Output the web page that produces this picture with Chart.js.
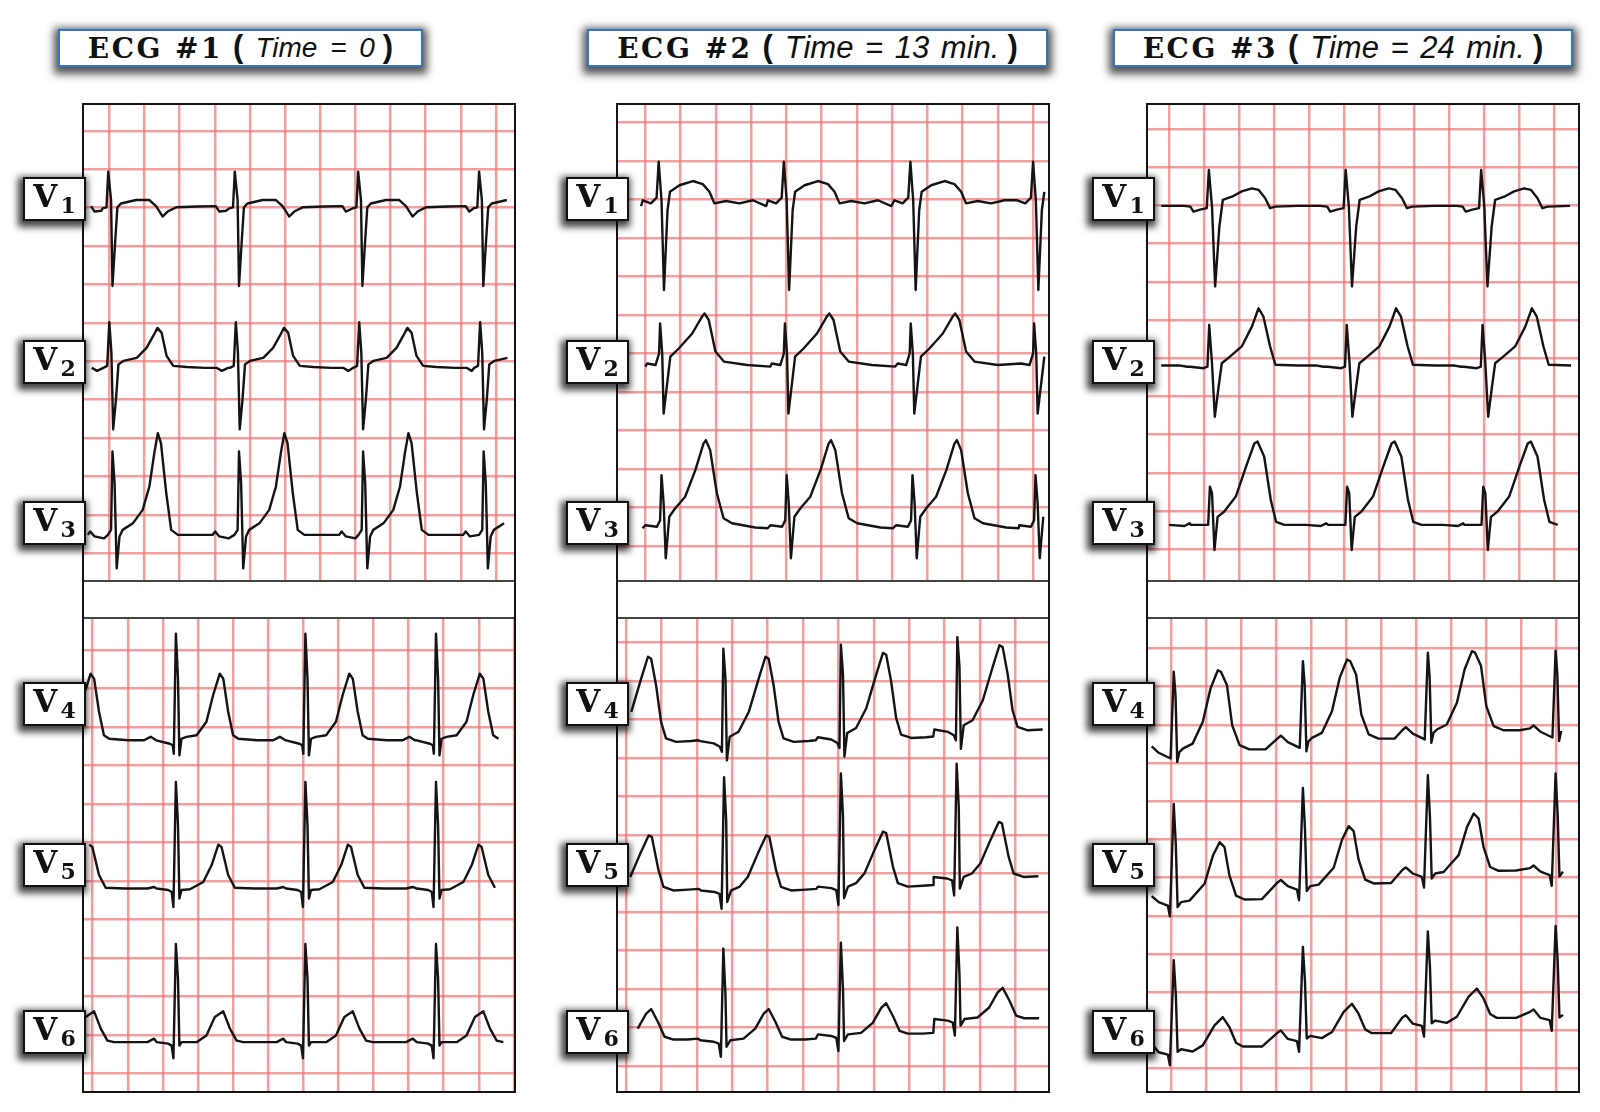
<!DOCTYPE html>
<html>
<head>
<meta charset="utf-8">
<title>ECG V1-V6 serial tracings</title>
<script src="https://cdn.jsdelivr.net/npm/chart.js@4.4.1/dist/chart.umd.min.js"></script>
<style>
  html, body { margin: 0; padding: 0; background: #fff; }
  #page { position: relative; width: 1600px; height: 1112px; overflow: hidden; }
  .frame { position: absolute; border: 2px solid #141414; box-sizing: border-box; }
  .gap { position: absolute; border-top: 2px solid #444; border-bottom: 2px solid #444; box-sizing: border-box; background: #fff; }
  canvas { position: absolute; }
  .title {
    position: absolute; top: 29px; height: 38px; box-sizing: border-box;
    border: 2px solid #2f76c6; background: #fff;
    box-shadow: 0 3px 8px 4px rgba(40, 40, 40, 0.8);
    display: flex; align-items: center; justify-content: center;
    white-space: pre; color: #111;
  }
  .title .ecg { font: bold 28px "DejaVu Serif", serif; letter-spacing: 2.5px; }
  .title .par { font: bold 31px "Liberation Sans", Arial, sans-serif; margin: 0 12px 2px 10px; }
  .title .par.close { margin: 0 0 2px 8px; }
  .title i { font: italic 28px "Liberation Sans", Arial, sans-serif; word-spacing: 5px; }
  .title.wide i { font-size: 31px; word-spacing: 3px; }
  .lead {
    position: absolute; width: 63px; height: 44px; box-sizing: border-box;
    border: 2px solid #111; background: #fff; z-index: 5;
    box-shadow: -2px 3px 7px 3px rgba(0, 0, 0, 0.75);
    display: flex; align-items: center; justify-content: center;
    font: bold 31px "DejaVu Serif", serif; color: #111; padding-bottom: 6px;
  }
  .lead sub { font-size: 22px; position: relative; top: 9px; margin-left: 3px; vertical-align: baseline; }
</style>
</head>
<body>
<div id="page"></div>
<script>
// ---- data: one beat per lead, [time, amplitude] in large boxes (time from R, amplitude from baseline)
// ---- plus R-wave times (large boxes) and baseline drift per beat

// ECG #1 (Time = 0)
const ecg1V1Beat = [[-0.19,-0.03],[-0.08,0],[-0.03,0.93],[0.05,0.19],[0.09,-2.05],[0.17,-0.85],[0.23,0],[0.33,0.10],[0.76,0.19],[1.14,0.19],[1.33,0.03],[1.52,-0.24],[1.66,-0.11],[1.90,0],[2.5,0.02],[3.03,0.03],[3.13,-0.11],[3.32,-0.09]];
const ecg1V2Beat = [[-0.19,-0.02],[-0.08,0.03],[-0.02,1.17],[0.04,0.37],[0.09,-1.62],[0.17,-0.84],[0.24,0.07],[0.38,0.16],[0.76,0.24],[1.04,0.50],[1.23,0.81],[1.35,1.02],[1.47,0.89],[1.61,0.29],[1.80,0.03],[2.18,0],[2.7,-0.02],[3.03,-0.02],[3.18,-0.10],[3.36,-0.02]];
const ecg1V3Beat = [[-0.14,0],[-0.05,0.13],[-0.01,2.17],[0.05,1.35],[0.11,-0.87],[0.19,-0.04],[0.28,0.13],[0.57,0.30],[0.85,0.65],[1.04,1.26],[1.18,2.13],[1.28,2.65],[1.37,2.39],[1.52,1.09],[1.66,0.13],[1.85,0],[2.4,0],[2.84,0],[2.91,0.09],[3.03,-0.04],[3.3,-0.09]];
const ecg1V4Beat = [[-0.57,0],[-0.19,-0.09],[-0.11,-0.13],[-0.08,-0.35],[-0.02,2.77],[0.04,1.60],[0.08,-0.39],[0.14,0.04],[0.28,0.09],[0.57,0.13],[0.85,0.48],[1.04,1.17],[1.23,1.73],[1.33,1.60],[1.47,0.74],[1.61,0.13],[1.76,0.04],[2.3,0],[2.75,0],[2.94,0.09],[3.1,0]];
const ecg1V5Beat = [[-0.57,0],[-0.24,-0.04],[-0.14,-0.09],[-0.09,-0.48],[-0.02,2.77],[0.04,1.65],[0.08,-0.26],[0.14,-0.04],[0.38,-0.02],[0.76,0.17],[1.0,0.61],[1.19,1.14],[1.28,1.08],[1.47,0.35],[1.66,0.02],[2.2,0],[2.85,0],[3.04,0.04]];
const ecg1V6Beat = [[-0.57,0],[-0.24,-0.04],[-0.14,-0.09],[-0.09,-0.42],[-0.02,2.55],[0.04,1.65],[0.08,-0.09],[0.14,0],[0.57,0],[0.85,0.17],[1.09,0.65],[1.33,0.80],[1.52,0.35],[1.71,0.04],[1.9,0],[2.4,0],[2.85,0],[3.04,0.09]];
const ecg1V1R = [-3.55, 0, 3.60, 7.11, 10.55];
const ecg1V2R = [-3.53, 0.02, 3.62, 7.13, 10.57];
const ecg1V3R = [-3.45, 0.10, 3.70, 7.23, 10.66];
const ecg1LowR = [-1.29, 2.39, 6.08, 9.80];

// ECG #2 (Time = 13 min.)
const ecg2V1Beat = [[-0.47,0.04],[-0.24,-0.04],[-0.08,0.11],[-0.02,1.04],[0.06,0.04],[0.13,-2.29],[0.23,-0.22],[0.30,0.26],[0.57,0.43],[0.95,0.54],[1.23,0.46],[1.42,0.26],[1.56,-0.04],[1.89,0.02],[2.27,-0.04],[2.65,0.04],[3.03,-0.11]];
const ecg2V2Beat = [[-0.38,0.04],[-0.14,0],[-0.04,0.30],[-0.01,1.08],[0.05,0.30],[0.09,-1.26],[0.19,-0.48],[0.28,0.22],[0.52,0.43],[0.90,0.82],[1.18,1.26],[1.25,1.34],[1.37,1.17],[1.56,0.35],[1.80,0.09],[2.46,0],[3.12,-0.04]];
const ecg2V3Beat = [[-0.47,0.04],[-0.14,0],[-0.05,0.17],[-0.01,1.34],[0.05,0.61],[0.11,-0.82],[0.21,0.26],[0.38,0.48],[0.66,0.78],[0.95,1.47],[1.18,2.16],[1.25,2.25],[1.37,1.99],[1.56,0.87],[1.75,0.22],[1.99,0.09],[2.65,-0.02],[3.0,-0.04]];
const ecg2V4Beat = [[-0.66,0.02],[-0.28,-0.04],[-0.11,-0.13],[-0.05,-0.26],[-0.01,2.42],[0.05,1.65],[0.09,-0.48],[0.17,0.13],[0.42,0.26],[0.71,0.78],[0.99,1.65],[1.18,2.21],[1.27,2.16],[1.41,1.47],[1.55,0.52],[1.69,0.09],[1.98,0],[2.4,0.02],[2.6,0.04]];
const ecg2V5Beat = [[-0.66,0],[-0.28,-0.04],[-0.14,-0.09],[-0.08,-0.48],[-0.01,2.94],[0.05,1.82],[0.08,-0.30],[0.19,0],[0.42,0.09],[0.66,0.35],[0.94,0.95],[1.18,1.43],[1.27,1.39],[1.46,0.52],[1.60,0.09],[1.88,0],[2.3,0.02],[2.6,0.04]];
const ecg2V6Beat = [[-0.66,0],[-0.28,-0.04],[-0.14,-0.09],[-0.08,-0.43],[-0.01,2.38],[0.05,1.17],[0.08,-0.17],[0.19,0],[0.56,0.04],[0.89,0.30],[1.13,0.69],[1.27,0.81],[1.46,0.48],[1.65,0.09],[1.88,0.02],[2.3,0.02],[2.6,0.04]];
const ecg2V1R = [-3.15, 0.40, 3.95, 7.54, 11.02];
const ecg2V2R = [-3.12, 0.43, 3.97, 7.54, 11.04];
const ecg2V3R = [-3.08, 0.47, 4.02, 7.59, 11.08];
const ecg2V4R = [-0.56, 2.76, 6.08, 9.37];
const ecg2V5R = [-0.54, 2.78, 6.08, 9.35];
const ecg2V6R = [-0.56, 2.76, 6.08, 9.37];
const ecg2V4Drift = [0, 0, 0.1, 0.3];
const ecg2V5Drift = [-0.05, -0.05, 0.05, 0.3];
const ecg2V6Drift = [0, 0, 0.15, 0.55];

// ECG #3 (Time = 24 min.)
const ecg3V1Beat = [[-0.57,-0.02],[-0.48,-0.15],[-0.29,-0.10],[-0.10,-0.06],[-0.04,0.94],[0.05,-0.02],[0.14,-2.11],[0.26,-0.54],[0.36,0.16],[0.62,0.24],[0.90,0.38],[1.19,0.46],[1.38,0.42],[1.57,0.20],[1.71,-0.06],[1.86,-0.02],[2.5,0],[3.14,0]];
const ecg3V2Beat = [[-0.57,-0.03],[-0.19,-0.07],[-0.08,-0.03],[-0.03,1.06],[0.05,0.06],[0.13,-1.34],[0.24,-0.55],[0.33,0.06],[0.57,0.24],[0.90,0.50],[1.19,1.02],[1.38,1.50],[1.52,1.28],[1.71,0.50],[1.86,0.02],[2.5,0],[3.05,0],[3.24,-0.03]];
const ecg3V3Beat = [[-0.57,-0.04],[-0.19,-0.04],[-0.08,-0.04],[-0.03,0.96],[0.03,0.79],[0.10,-0.70],[0.19,0.17],[0.38,0.31],[0.71,0.70],[1.0,1.48],[1.24,2.09],[1.33,2.14],[1.52,1.75],[1.71,0.61],[1.86,0.04],[2.10,-0.04],[2.7,-0.04],[3.14,-0.07],[3.29,0]];
const ecg3V4Beat = [[-0.75,0.11],[-0.65,0.19],[-0.45,0.02],[-0.11,-0.13],[-0.02,2.14],[0.03,1.53],[0.08,-0.22],[0.14,0.04],[0.24,0.13],[0.52,0.26],[0.81,0.83],[1.03,1.70],[1.24,2.18],[1.33,2.14],[1.50,1.79],[1.65,0.74],[1.86,0.22],[2.14,0.11],[2.6,0.11]];
const ecg3V5Beat = [[-0.75,0.09],[-0.65,0.16],[-0.45,0],[-0.19,-0.09],[-0.13,-0.37],[-0.02,2.57],[0.04,1.48],[0.09,-0.13],[0.19,0],[0.43,0.04],[0.86,0.48],[1.10,1.22],[1.29,1.57],[1.43,1.44],[1.57,0.70],[1.76,0.17],[2.0,0.07],[2.5,0.08]];
const ecg3V6Beat = [[-0.75,0.11],[-0.65,0.17],[-0.45,-0.05],[-0.19,-0.11],[-0.13,-0.39],[-0.02,2.36],[0.04,1.44],[0.09,-0.04],[0.19,0.03],[0.52,-0.03],[0.81,0.13],[1.14,0.65],[1.38,0.87],[1.57,0.61],[1.76,0.20],[1.95,0.10],[2.5,0.1]];
const ecg3V1R = [-2.73, 1.17, 5.08, 8.95];
const ecg3V2R = [-2.73, 1.17, 5.10, 8.98];
const ecg3V3R = [-2.71, 1.19, 5.11, 9.00];
const ecg3LowR = [-3.6, 0.09, 3.78, 7.35, 11.0];
const ecg3V4Drift = [0, 0, 0.28, 0.5, 0.55];
const ecg3V5Drift = [0, 0, 0.42, 0.75, 0.8];
const ecg3V6Drift = [0, 0, 0.35, 0.75, 0.9];

const titles = ['ECG #1', 'ECG #2', 'ECG #3'];
const times = ['Time = 0', 'Time = 13 min.', 'Time = 24 min.'];
const leadNames = ['1', '2', '3', '4', '5', '6'];

// ---- layout
const GRID = 'rgba(242, 112, 112, 0.68)';
const TRACE = '#141414';
const panelLeft = [82, 616, 1146];
const titleBox = [[58, 365], [587, 461], [1113, 460]];
const labelLeft = [23, 566, 1092];
const labelTop = [177, 340, 501, 682, 843, 1010];

// box: [left, top, width, height], grid: [first vertical line, box width, bottom line, box height]
const sections = [
  { box: [84, 105, 430, 475], grid: [109.3, 35.15, 553.3, 38.4], span: [-0.64, 11.4], leads: [
    { base: 9.01, beat: ecg1V1Beat, r: ecg1V1R },
    { base: 4.85, beat: ecg1V2Beat, r: ecg1V2R },
    { base: 0.48, beat: ecg1V3Beat, r: ecg1V3R }] },
  { box: [84, 619, 430, 472], grid: [92.7, 35.1, 1073.7, 38.5], span: [-0.25, 11.89], leads: [
    { base: 8.66, beat: ecg1V4Beat, r: ecg1LowR },
    { base: 4.81, beat: ecg1V5Beat, r: ecg1LowR },
    { base: 0.82, beat: ecg1V6Beat, r: ecg1LowR }] },
  { box: [618, 105, 430, 475], grid: [645.3, 35.25, 546, 38.5], span: [-0.38, 11.4], leads: [
    { base: 8.94, beat: ecg2V1Beat, r: ecg2V1R },
    { base: 4.70, beat: ecg2V2Beat, r: ecg2V2R },
    { base: 0.50, beat: ecg2V3Beat, r: ecg2V3R }] },
  { box: [618, 619, 430, 472], grid: [626, 35.4, 1066, 38.5], span: [0.12, 11.9], leads: [
    { base: 8.42, beat: ecg2V4Beat, r: ecg2V4R, drift: ecg2V4Drift },
    { base: 4.61, beat: ecg2V5Beat, r: ecg2V5R, drift: ecg2V5Drift },
    { base: 0.67, beat: ecg2V6Beat, r: ecg2V6R, drift: ecg2V6Drift }] },
  { box: [1148, 105, 430, 475], grid: [1169.3, 35, 549.3, 38.2], span: [-0.4, 11.6], leads: [
    { base: 8.99, beat: ecg3V1Beat, r: ecg3V1R },
    { base: 4.81, beat: ecg3V2Beat, r: ecg3V2R },
    { base: 0.68, beat: ecg3V3Beat, r: ecg3V3R }] },
  { box: [1148, 619, 430, 472], grid: [1171.3, 35, 1068.7, 38.2], span: [-0.65, 11.21], leads: [
    { base: 8.25, beat: ecg3V4Beat, r: ecg3LowR, drift: ecg3V4Drift },
    { base: 4.36, beat: ecg3V5Beat, r: ecg3LowR, drift: ecg3V5Drift },
    { base: 0.48, beat: ecg3V6Beat, r: ecg3LowR, drift: ecg3V6Drift }] }
];

const page = document.getElementById('page');

function addDiv(cls, style, html) {
  const d = document.createElement('div');
  d.className = cls;
  Object.assign(d.style, style);
  if (html) d.innerHTML = html;
  page.appendChild(d);
  return d;
}

// repeat the beat at each R time, each copy stops where the next one starts
function buildTrace(lead, span) {
  const pts = [];
  lead.r.forEach((r, i) => {
    const next = lead.r[i + 1];
    const shift = lead.drift ? lead.drift[i] : 0;
    lead.beat.forEach(([t, v]) => {
      const x = r + t;
      if (next !== undefined && x >= next + lead.beat[0][0]) return;
      if (x < span[0] || x > span[1]) return;
      pts.push({ x: x, y: lead.base + v + shift });
    });
  });
  return pts;
}

function gridTicks(axis) {
  const ticks = [];
  for (let v = Math.ceil(axis.min); v <= axis.max; v++) ticks.push({ value: v });
  axis.ticks = ticks;
}

function axis(min, max) {
  return {
    type: 'linear', min: min, max: max,
    afterBuildTicks: gridTicks,
    ticks: { display: false },
    grid: { color: GRID, lineWidth: 2.5, drawTicks: false },
    border: { display: false }
  };
}

// panel frames and the blank strip between the two halves
panelLeft.forEach(left => {
  addDiv('frame', { left: left + 'px', top: '103px', width: '434px', height: '990px' });
  addDiv('gap', { left: (left + 2) + 'px', top: '580px', width: '430px', height: '39px' });
});

sections.forEach(sec => {
  const [left, top, width, height] = sec.box;
  const [gx0, gdx, gyb, gdy] = sec.grid;
  const canvas = document.createElement('canvas');
  canvas.width = width;
  canvas.height = height;
  canvas.style.left = left + 'px';
  canvas.style.top = top + 'px';
  canvas.style.width = width + 'px';
  canvas.style.height = height + 'px';
  page.appendChild(canvas);

  new Chart(canvas, {
    type: 'line',
    data: {
      datasets: sec.leads.map(lead => ({
        data: buildTrace(lead, sec.span),
        borderColor: TRACE,
        borderWidth: 2.4,
        borderJoinStyle: 'round',
        pointRadius: 0,
        tension: 0,
        fill: false
      }))
    },
    options: {
      responsive: false,
      devicePixelRatio: 1,
      animation: false,
      events: [],
      layout: { padding: 0 },
      plugins: { legend: { display: false }, tooltip: { enabled: false } },
      scales: {
        x: axis((left - gx0) / gdx, (left + width - gx0) / gdx),
        y: axis(-(top + height - gyb) / gdy, (gyb - top) / gdy)
      }
    }
  });
});

// titles
titles.forEach((t, i) => {
  const [left, width] = titleBox[i];
  addDiv('title' + (i > 0 ? ' wide' : ''), { left: left + 'px', width: width + 'px' },
    '<b class="ecg">' + t + '</b><b class="par">(</b><i>' + times[i] + '</i><b class="par close">)</b>');
});

// lead labels
labelLeft.forEach(left => {
  leadNames.forEach((n, j) => {
    addDiv('lead', { left: left + 'px', top: labelTop[j] + 'px' }, 'V<sub>' + n + '</sub>');
  });
});
</script>
</body>
</html>
